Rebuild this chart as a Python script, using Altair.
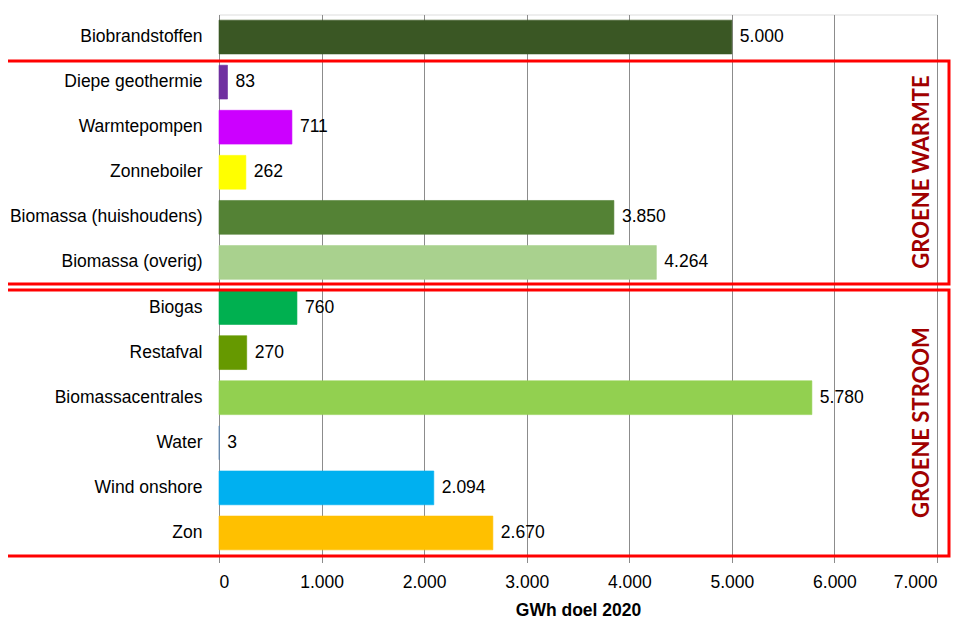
import altair as alt
import pandas as pd

categories = ["Biobrandstoffen", "Diepe geothermie", "Warmtepompen", "Zonneboiler",
              "Biomassa (huishoudens)", "Biomassa (overig)", "Biogas", "Restafval",
              "Biomassacentrales", "Water", "Wind onshore", "Zon"]
values = [5000, 83, 711, 262, 3850, 4264, 760, 270, 5780, 3, 2094, 2670]
colors = ["#3A5724", "#7030A0", "#CC00FF", "#FFFF00", "#548235", "#A9D18E",
          "#00B050", "#669900", "#92D050", "#5B87B5", "#00B0F0", "#FFC000"]
group_labels = ["GROENE WARMTE", "GROENE STROOM"]
x_ticks = [0, 1000, 2000, 3000, 4000, 5000, 6000, 7000]

df = pd.DataFrame({"cat": categories, "val": values, "col": colors})

FONT = "Liberation Sans"
FS = 17.5
W, H = 718, 541

y_enc = alt.Y("cat:N", sort=categories,
              scale=alt.Scale(paddingInner=0.25, paddingOuter=0.125),
              axis=alt.Axis(title=None, labelFont=FONT, labelFontSize=FS, labelColor="#000000",
                            labelPadding=17, ticks=False, domainColor="#8C8C8C", domainWidth=1,
                            labelLimit=300))
x_enc = alt.X("val:Q", scale=alt.Scale(domain=[0, 7000], nice=False),
              axis=alt.Axis(values=x_ticks, title="GWh doel 2020", titleFont=FONT,
                            titleFontSize=FS, titleFontWeight="bold", titleColor="#000000",
                            titlePadding=10, labelFont=FONT, labelFontSize=FS,
                            labelColor="#000000", labelPadding=11,
                            labelExpr="replace(format(datum.value, ','), ',', '.')",
                            grid=True, gridColor="#8C8C8C", gridWidth=1,
                            tickColor="#8C8C8C", tickSize=7, domain=False))

base = alt.Chart(df)
bars = base.mark_bar(strokeWidth=0.6).encode(
    y=y_enc, x=x_enc,
    color=alt.Color("col:N", scale=None),
    stroke=alt.Stroke("col:N", scale=None))
labels = base.transform_calculate(
    lab="replace(format(datum.val, ','), ',', '.')"
).mark_text(align="left", baseline="middle", dx=8, font=FONT, fontSize=FS, color="#000000").encode(
    y=alt.Y("cat:N", sort=categories), x="val:Q", text="lab:N")

one = alt.Data(values=[{"a": 1}])
box1 = alt.Chart(one).mark_rect(filled=False, stroke="#FF0000", strokeWidth=3).encode(
    x=alt.value(-214), x2=alt.value(730), y=alt.value(46.5), y2=alt.value(269.5))
box2 = alt.Chart(one).mark_rect(filled=False, stroke="#FF0000", strokeWidth=3).encode(
    x=alt.value(-214), x2=alt.value(730), y=alt.value(275.5), y2=alt.value(541.5))
t1 = alt.Chart(one).mark_text(angle=270, font="Lato", fontSize=22, fontWeight="bold",
                              color="#A00000", baseline="middle", align="center").encode(
    x=alt.value(703), y=alt.value(157.5), text=alt.value(group_labels[0]))
t2 = alt.Chart(one).mark_text(angle=270, font="Lato", fontSize=22, fontWeight="bold",
                              color="#A00000", baseline="middle", align="center").encode(
    x=alt.value(703), y=alt.value(408), text=alt.value(group_labels[1]))

chart = alt.layer(bars, labels, box1, box2, t1, t2).properties(
    width=W, height=H,
    autosize=alt.AutoSizeParams(type="none"),
    padding={"left": 211, "top": 6.5, "right": 32, "bottom": 76},
).configure_view(stroke=None).configure(background="#FFFFFF")

chart.save("out.html", embed_options={"renderer": "svg", "actions": False})
